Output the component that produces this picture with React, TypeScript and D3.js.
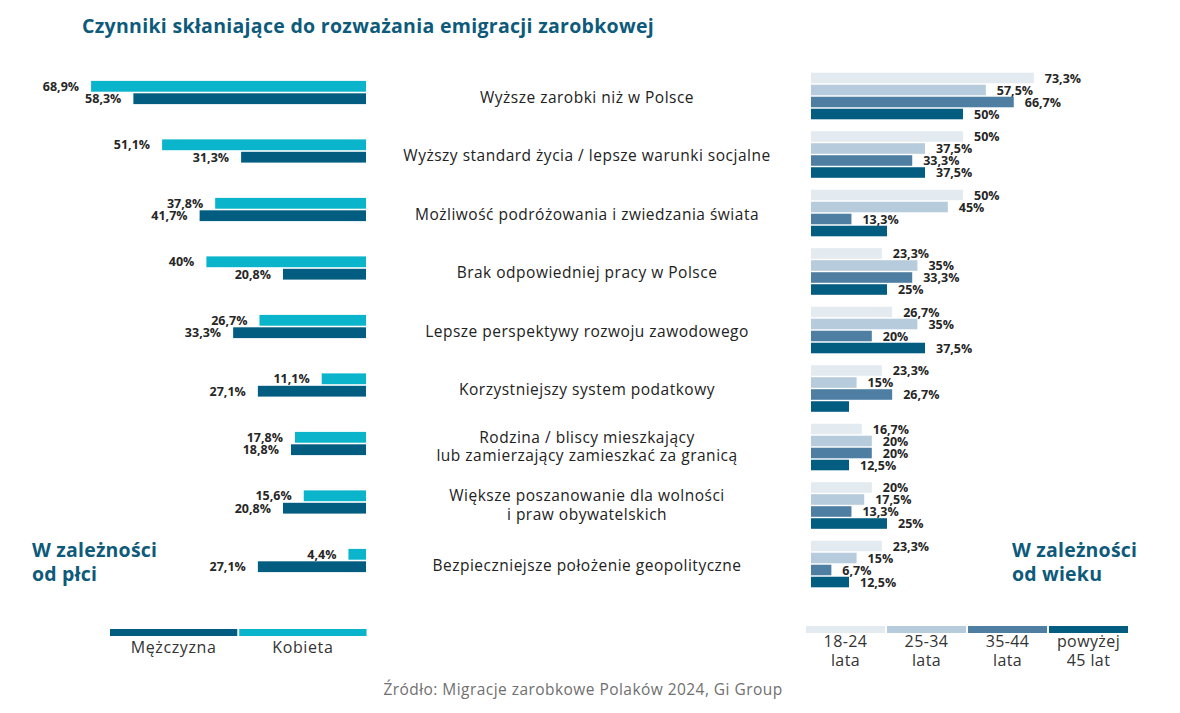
import React from "react";
import * as d3 from "d3";

const categories = [
  "Wyższe zarobki niż w Polsce",
  "Wyższy standard życia / lepsze warunki socjalne",
  "Możliwość podróżowania i zwiedzania świata",
  "Brak odpowiedniej pracy w Polsce",
  "Lepsze perspektywy rozwoju zawodowego",
  "Korzystniejszy system podatkowy",
  "Rodzina / bliscy mieszkający\nlub zamierzający zamieszkać za granicą",
  "Większe poszanowanie dla wolności\ni praw obywatelskich",
  "Bezpieczniejsze położenie geopolityczne",
];

const genderSeries = ["Kobieta", "Mężczyzna"];
const kobieta = [68.9, 51.1, 37.8, 40, 26.7, 11.1, 17.8, 15.6, 4.4];
const mezczyzna = [58.3, 31.3, 41.7, 20.8, 33.3, 27.1, 18.8, 20.8, 27.1];

const ageSeries = ["18-24\nlata", "25-34\nlata", "35-44\nlata", "powyżej\n45 lat"];
const age1824 = [73.3, 50, 50, 23.3, 26.7, 23.3, 16.7, 20, 23.3];
const age2534 = [57.5, 37.5, 45, 35, 35, 15, 20, 17.5, 15];
const age3544 = [66.7, 33.3, 13.3, 33.3, 20, 26.7, 20, 13.3, 6.7];
const age45 = [50, 37.5, 25, 25, 37.5, 12.5, 12.5, 25, 12.5];
// the reference leaves a few bars without a value label
const age45Labelled = [true, true, false, true, true, false, true, true, true];

const genderLegendOrder = ["Mężczyzna", "Kobieta"];

const FONT = "'Open Sans', 'DejaVu Sans', sans-serif";
const TITLE_COLOR = "#0d5a7b";
const genderColors: Record<string, string> = { Kobieta: "#0ab4cb", "Mężczyzna": "#035d80" };
const ageColors = ["#e3ebf1", "#b6cbdb", "#4e7fa3", "#035d80"];

const fmt = (v: number) => String(v).replace(".", ",") + "%";

export default function App() {
  const W = 1180;
  const H = 713;

  const y = d3.scalePoint<string>().domain(categories).range([92.5, 560.5]);
  const xLeft = d3.scaleLinear().domain([0, 100]).range([366, 366 - 399]);
  const xRight = d3.scaleLinear().domain([0, 100]).range([811, 811 + 304]);

  const gBand = d3.scaleBand<string>().domain(genderSeries).range([-11.6, 11.6]).paddingInner(0.13);
  const aBand = d3.scaleBand<string>().domain(ageSeries).range([-23.3 + 3.5, 23.3 + 3.5]).paddingInner(0.12);

  const genderData: Record<string, number[]> = { Kobieta: kobieta, "Mężczyzna": mezczyzna };
  const ageData = [age1824, age2534, age3544, age45];

  const legendG = d3.scaleBand<string>().domain(genderLegendOrder).range([110, 366.5]).paddingInner(0.015);
  const legendA = d3.scaleBand<string>().domain(ageSeries).range([806, 1128]).paddingInner(0.025);

  return (
    <svg
      width={W}
      height={H}
      style={{ position: "absolute", left: 0, top: 0, background: "#fff" }}
      fontFamily={FONT}
    >
      <text x={82} y={33} fontSize={19.5} fontWeight={700} fill={TITLE_COLOR} letterSpacing={0.3}>
        Czynniki skłaniające do rozważania emigracji zarobkowej
      </text>

      {/* Left: gender */}
      {categories.map((c, i) => (
        <g key={"g" + i} transform={`translate(0,${y(c)})`}>
          {genderSeries.map((s) => {
            const v = genderData[s][i];
            const x0 = xLeft(v);
            const yy = gBand(s)!;
            return (
              <g key={s}>
                <rect x={x0} y={yy} width={xLeft(0) - x0} height={gBand.bandwidth()} fill={genderColors[s]} />
                <text
                  x={x0 - 12}
                  y={yy + gBand.bandwidth() / 2}
                  dy="0.36em"
                  textAnchor="end"
                  fontSize={12.5}
                  fontWeight={700}
                  fill="#262626"
                >
                  {fmt(v)}
                </text>
              </g>
            );
          })}
        </g>
      ))}

      {/* Category labels */}
      {categories.map((c, i) => {
        const lines = c.split("\n");
        const cy = y(c)!;
        const base = lines.length === 1 ? cy + 10 : cy - 1;
        return (
          <text key={"c" + i} x={587} textAnchor="middle" fontSize={15.5} letterSpacing={0.5} fill="#222">
            {lines.map((l, j) => (
              <tspan key={j} x={587} y={base + j * 18.5}>
                {l}
              </tspan>
            ))}
          </text>
        );
      })}

      {/* Right: age */}
      {categories.map((c, i) => (
        <g key={"a" + i} transform={`translate(0,${y(c)})`}>
          {ageSeries.map((s, k) => {
            const v = ageData[k][i];
            const x1 = xRight(v);
            const yy = aBand(s)!;
            const show = k < 3 || age45Labelled[i];
            return (
              <g key={s}>
                <rect x={xRight(0)} y={yy} width={x1 - xRight(0)} height={aBand.bandwidth()} fill={ageColors[k]} />
                {show && (
                  <text
                    x={x1 + 11}
                    y={yy + aBand.bandwidth() / 2}
                    dy="0.38em"
                    fontSize={12.5}
                    fontWeight={700}
                    fill="#262626"
                  >
                    {fmt(v)}
                  </text>
                )}
              </g>
            );
          })}
        </g>
      ))}

      {/* Side headings */}
      <text x={32} fontSize={19.5} fontWeight={700} fill={TITLE_COLOR} letterSpacing={0.2}>
        <tspan x={32} y={557}>W zależności</tspan>
        <tspan x={32} y={581}>od płci</tspan>
      </text>
      <text x={1012} fontSize={19.5} fontWeight={700} fill={TITLE_COLOR} letterSpacing={0.2}>
        <tspan x={1012} y={557}>W zależności</tspan>
        <tspan x={1012} y={581}>od wieku</tspan>
      </text>

      {/* Gender legend */}
      {genderLegendOrder.map((s) => (
        <g key={s}>
          <rect x={legendG(s)!} y={629} width={legendG.bandwidth()} height={7} fill={genderColors[s]} />
          <text
            x={legendG(s)! + legendG.bandwidth() / 2}
            y={653}
            textAnchor="middle"
            fontSize={16}
            letterSpacing={0.6}
            fill="#333"
          >
            {s}
          </text>
        </g>
      ))}

      {/* Age legend */}
      {ageSeries.map((s, k) => {
        const cx = legendA(s)! + legendA.bandwidth() / 2;
        return (
          <g key={s}>
            <rect x={legendA(s)!} y={626} width={legendA.bandwidth()} height={7} fill={ageColors[k]} />
            <text textAnchor="middle" fontSize={16} letterSpacing={0.4} fill="#333">
              {s.split("\n").map((l, j) => (
                <tspan key={j} x={cx} y={647 + j * 18.5}>
                  {l}
                </tspan>
              ))}
            </text>
          </g>
        );
      })}

      <text x={583} y={695} textAnchor="middle" fontSize={15.5} letterSpacing={0.45} fill="#707070">
        Źródło: Migracje zarobkowe Polaków 2024, Gi Group
      </text>
    </svg>
  );
}
